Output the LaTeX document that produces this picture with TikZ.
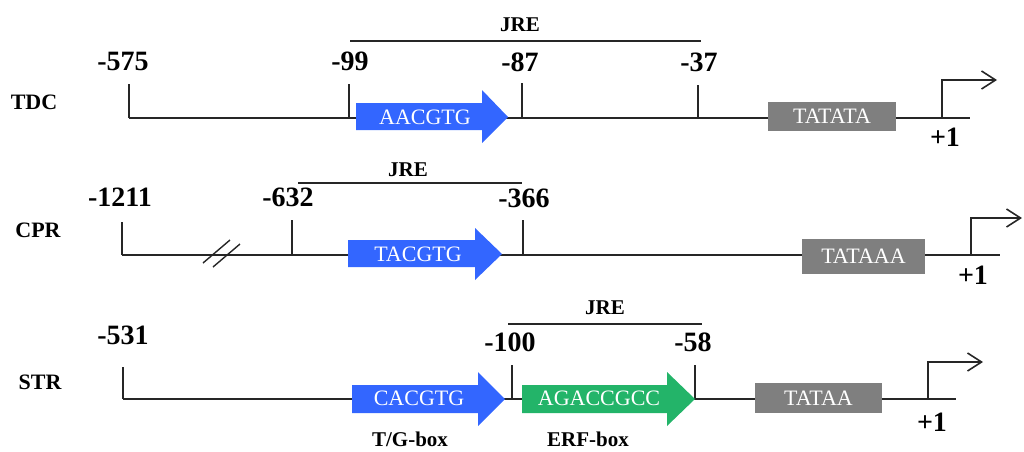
\documentclass[tikz,border=0pt]{standalone}
\usepackage{fontspec}
\setmainfont{Liberation Serif}
\usepackage{tikz}
\usetikzlibrary{arrows.meta}
\definecolor{motifblue}{RGB}{51,102,255}
\definecolor{motifgreen}{RGB}{35,180,105}
\definecolor{tatagray}{RGB}{127,127,127}
\tikzset{
  dna/.style   = {line width=0.8pt, black!85},
  tickln/.style= {line width=0.8pt, black!85},
  brk/.style   = {line width=0.7pt, black!85},
  posn/.style  = {font=\fontsize{14}{14}\selectfont\bfseries, inner sep=0pt},
  gene/.style  = {font=\fontsize{11}{11}\selectfont\bfseries, inner sep=0pt},
  elem/.style  = {font=\fontsize{10.5}{10.5}\selectfont\bfseries, inner sep=0pt},
  seq/.style   = {font=\fontsize{11}{11}\selectfont, text=white, inner sep=0pt},
  tata/.style  = {fill=tatagray, inner sep=0pt, font=\fontsize{11}{11}\selectfont,
                  text=white},
  tss/.style   = {-{Straight Barb[length=7pt, width=9pt, line width=0.8pt]},
                  line width=0.8pt, black!85},
}

\begin{document}
\begin{tikzpicture}[x=0.5pt, y=-0.5pt]
\path[use as bounding box] (0,0) rectangle (1024,451);

% --- TDC promoter ---
\node[gene] (tdc) at (34,102) {TDC};
\coordinate (tdcS) at (129,118);
\coordinate (tdcE) at (970,118);
\draw[dna] (tdcS) -- (tdcE);
\draw[tickln] (tdcS) -- ++(0,-34);
\draw[tickln] (349,118) -- (349,84);
\draw[tickln] (522,118) -- (522,83);
\draw[tickln] (698,118) -- (698,85);
\node[posn] (tdc575) at (123,61) {-575};
\node[posn] (tdc99)  at (350,61) {-99};
\node[posn] (tdc87)  at (520,62) {-87};
\node[posn] (tdc37)  at (699,62) {-37};
\draw[tickln] (350,41) -- (701,41);
\node[elem] (tdcjre) at (520,25) {JRE};
\fill[motifblue] (356,103) -- (482,103) -- (482,90) -- (508,117) -- (482,143)
     -- (482,130) -- (356,130) -- cycle;
\node[seq] (tdcmot) at (425,117) {AACGTG};
\node[tata, minimum width=64pt, minimum height=14.5pt] (tdcbox) at (832,116.5) {TATATA};
\draw[tss] (942,118) -- (942,80) -- (997,80);
\node[posn] (tdcone) at (945,137) {+1};

% --- CPR promoter ---
\node[gene] (cpr) at (38,230) {CPR};
\coordinate (cprS) at (122,255);
\coordinate (cprE) at (1000,255);
\draw[dna] (cprS) -- (cprE);
\draw[tickln] (cprS) -- ++(0,-33);
\draw[tickln] (292,255) -- (292,220);
\draw[tickln] (523,255) -- (523,220);
\draw[brk] (203,263) -- (230,240);
\draw[brk] (213,267) -- (240,244);
\node[posn] (cpr1211) at (120,197) {-1211};
\node[posn] (cpr632)  at (288,197) {-632};
\node[posn] (cpr366)  at (524,198) {-366};
\draw[tickln] (298,183) -- (522,183);
\node[elem] (cprjre) at (408,170) {JRE};
\fill[motifblue] (348,240) -- (475,240) -- (475,228) -- (502,254) -- (475,280)
     -- (475,267) -- (348,267) -- cycle;
\node[seq] (cprmot) at (418,254) {TACGTG};
\node[tata, minimum width=61.5pt, minimum height=17.5pt] (cprbox) at (863.5,256.5) {TATAAA};
\draw[tss] (971,255) -- (971,218) -- (1022,218);
\node[posn] (cprone) at (973,275) {+1};

% --- STR promoter ---
\node[gene] (str) at (40,382) {STR};
\coordinate (strS) at (123,399);
\coordinate (strE) at (956,399);
\draw[dna] (strS) -- (strE);
\draw[tickln] (strS) -- ++(0,-32);
\draw[tickln] (512,399) -- (512,365);
\draw[tickln] (695,399) -- (695,365);
\node[posn] (str531) at (123,335) {-531};
\node[posn] (str100) at (510,342) {-100};
\node[posn] (str58)  at (693,342) {-58};
\draw[tickln] (508,324) -- (702,324);
\node[elem] (strjre) at (605,308) {JRE};
\fill[motifblue] (352,385) -- (478,385) -- (478,372) -- (505,399) -- (478,426)
     -- (478,413) -- (352,413) -- cycle;
\node[seq] (strtg) at (419,398) {CACGTG};
\fill[motifgreen] (522,385) -- (667,385) -- (667,372) -- (695,399) -- (667,426)
     -- (667,413) -- (522,413) -- cycle;
\node[seq] (strerf) at (599,398) {AGACCGCC};
\node[elem] (tgbox)  at (410,439) {T/G-box};
\node[elem] (erfbox) at (588,439) {ERF-box};
\node[tata, minimum width=63.5pt, minimum height=15pt] (strbox) at (818.5,398) {TATAA};
\draw[tss] (928,399) -- (928,362) -- (983,362);
\node[posn] (strone) at (932,422) {+1};
\end{tikzpicture}
\end{document}
